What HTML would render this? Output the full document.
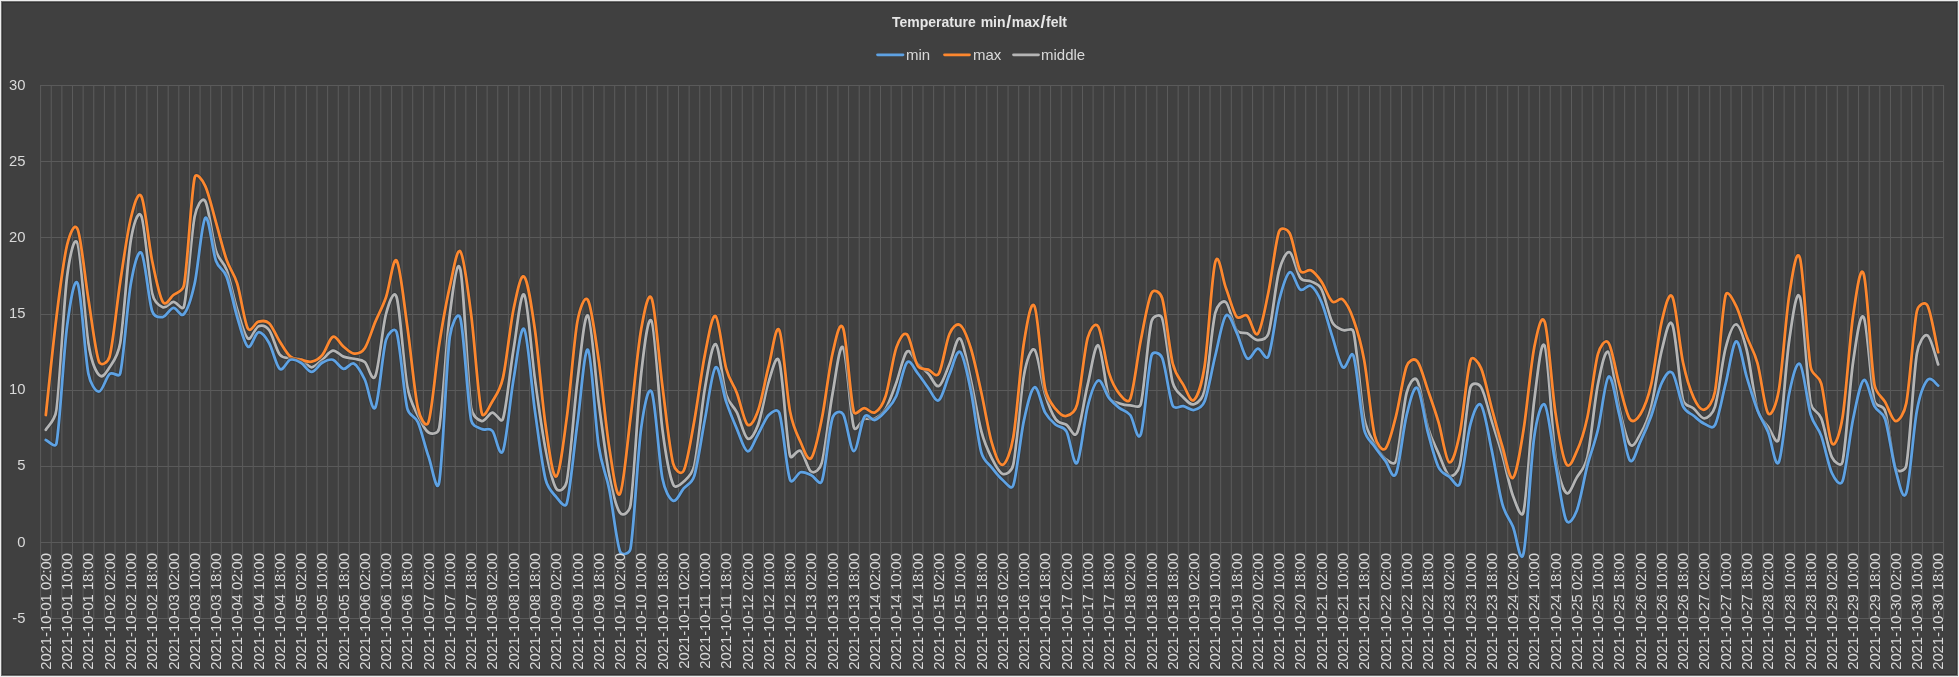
<!DOCTYPE html>
<html><head><meta charset="utf-8"><style>
html,body{margin:0;padding:0;}
body{width:1959px;height:677px;background:#eeeeee;position:relative;overflow:hidden;font-family:"Liberation Sans",sans-serif;}
#f1{position:absolute;left:1px;top:1px;width:1957px;height:675px;box-sizing:border-box;border:1px solid #6c6c6c;}
#f2{position:absolute;left:0;top:0;right:0;bottom:0;border:1px solid #333333;background:#404040;}
svg{position:absolute;left:0;top:0;}
.t{position:absolute;left:0;width:1959px;text-align:center;top:13.5px;font-size:14px;font-weight:bold;color:#e6e6e6;line-height:16px;white-space:nowrap;filter:grayscale(1);}
.sl{margin:0 0.6px;font-size:18px;line-height:10px;position:relative;top:1px;} .sl0{margin-left:1px;}
.lg{position:absolute;top:46px;font-size:15px;color:#d9d9d9;line-height:18px;white-space:nowrap;filter:grayscale(1);}
.yl{position:absolute;right:1933.5px;font-size:14.8px;color:#d9d9d9;line-height:18px;text-align:right;white-space:nowrap;filter:grayscale(1);}
.xl{position:absolute;top:553px;width:0;height:0;font-size:14.8px;color:#d9d9d9;white-space:nowrap;}
.xl span{position:absolute;right:0;top:-9px;line-height:18px;transform-origin:100% 50%;transform:rotate(-90deg);filter:grayscale(1);}
</style></head><body>
<div id="f1"><div id="f2"></div></div>
<svg width="1959" height="677" viewBox="0 0 1959 677">
<path d="M40.60,85V619M51.23,85V619M61.86,85V619M72.49,85V619M83.13,85V619M93.76,85V619M104.39,85V619M115.02,85V619M125.65,85V619M136.28,85V619M146.91,85V619M157.54,85V619M168.18,85V619M178.81,85V619M189.44,85V619M200.07,85V619M210.70,85V619M221.33,85V619M231.96,85V619M242.59,85V619M253.23,85V619M263.86,85V619M274.49,85V619M285.12,85V619M295.75,85V619M306.38,85V619M317.01,85V619M327.64,85V619M338.28,85V619M348.91,85V619M359.54,85V619M370.17,85V619M380.80,85V619M391.43,85V619M402.06,85V619M412.69,85V619M423.33,85V619M433.96,85V619M444.59,85V619M455.22,85V619M465.85,85V619M476.48,85V619M487.11,85V619M497.75,85V619M508.38,85V619M519.01,85V619M529.64,85V619M540.27,85V619M550.90,85V619M561.53,85V619M572.16,85V619M582.80,85V619M593.43,85V619M604.06,85V619M614.69,85V619M625.32,85V619M635.95,85V619M646.58,85V619M657.21,85V619M667.85,85V619M678.48,85V619M689.11,85V619M699.74,85V619M710.37,85V619M721.00,85V619M731.63,85V619M742.26,85V619M752.90,85V619M763.53,85V619M774.16,85V619M784.79,85V619M795.42,85V619M806.05,85V619M816.68,85V619M827.32,85V619M837.95,85V619M848.58,85V619M859.21,85V619M869.84,85V619M880.47,85V619M891.10,85V619M901.73,85V619M912.37,85V619M923.00,85V619M933.63,85V619M944.26,85V619M954.89,85V619M965.52,85V619M976.15,85V619M986.78,85V619M997.42,85V619M1008.05,85V619M1018.68,85V619M1029.31,85V619M1039.94,85V619M1050.57,85V619M1061.20,85V619M1071.83,85V619M1082.47,85V619M1093.10,85V619M1103.73,85V619M1114.36,85V619M1124.99,85V619M1135.62,85V619M1146.25,85V619M1156.88,85V619M1167.52,85V619M1178.15,85V619M1188.78,85V619M1199.41,85V619M1210.04,85V619M1220.67,85V619M1231.30,85V619M1241.94,85V619M1252.57,85V619M1263.20,85V619M1273.83,85V619M1284.46,85V619M1295.09,85V619M1305.72,85V619M1316.35,85V619M1326.99,85V619M1337.62,85V619M1348.25,85V619M1358.88,85V619M1369.51,85V619M1380.14,85V619M1390.77,85V619M1401.40,85V619M1412.04,85V619M1422.67,85V619M1433.30,85V619M1443.93,85V619M1454.56,85V619M1465.19,85V619M1475.82,85V619M1486.45,85V619M1497.09,85V619M1507.72,85V619M1518.35,85V619M1528.98,85V619M1539.61,85V619M1550.24,85V619M1560.87,85V619M1571.51,85V619M1582.14,85V619M1592.77,85V619M1603.40,85V619M1614.03,85V619M1624.66,85V619M1635.29,85V619M1645.92,85V619M1656.56,85V619M1667.19,85V619M1677.82,85V619M1688.45,85V619M1699.08,85V619M1709.71,85V619M1720.34,85V619M1730.97,85V619M1741.61,85V619M1752.24,85V619M1762.87,85V619M1773.50,85V619M1784.13,85V619M1794.76,85V619M1805.39,85V619M1816.02,85V619M1826.66,85V619M1837.29,85V619M1847.92,85V619M1858.55,85V619M1869.18,85V619M1879.81,85V619M1890.44,85V619M1901.07,85V619M1911.71,85V619M1922.34,85V619M1932.97,85V619M1943.60,85V619" stroke="#5c5c5c" stroke-width="1" fill="none"/>
<path d="M40,618.5H1944M40,542.5H1944M40,466.5H1944M40,390.5H1944M40,314.5H1944M40,237.5H1944M40,161.5H1944M40,85.5H1944" stroke="#5a5a5a" stroke-width="1" fill="none" shape-rendering="crispEdges"/>
<path d="M45.82,429.77C47.59,426.47 54.90,421.10 56.45,409.97C59.99,384.45 63.53,304.35 67.08,276.68C69.27,259.60 74.17,232.88 77.71,243.93C81.25,254.97 84.80,321.11 88.34,342.94C91.04,359.58 95.43,370.87 98.97,374.93C102.52,379.00 106.06,372.65 109.60,367.32C113.15,361.99 118.05,356.06 120.23,342.94C123.78,321.72 127.32,261.04 130.87,239.97C133.00,227.27 137.95,207.62 141.50,216.51C145.04,225.39 148.58,278.15 152.13,293.28C154.13,301.85 159.22,305.88 162.76,307.30C166.30,308.72 169.85,301.97 173.39,301.81C176.93,301.66 182.62,312.00 184.02,306.38C187.57,292.17 191.11,234.03 194.65,216.51C196.50,207.40 201.74,195.59 205.28,201.27C208.83,206.96 212.37,239.20 215.92,250.63C219.17,261.11 223.00,260.02 226.55,269.82C230.09,279.62 233.64,298.01 237.18,309.43C240.72,320.86 244.27,335.58 247.81,338.37C251.35,341.17 254.90,327.58 258.44,326.19C261.99,324.79 265.68,325.48 269.07,330.00C272.62,334.72 276.16,349.82 279.70,354.52C283.09,359.01 286.79,357.31 290.34,358.18C293.88,359.04 297.42,358.18 300.97,359.70C304.51,361.22 308.05,367.32 311.60,367.32C315.14,367.32 318.69,362.49 322.23,359.70C325.77,356.91 329.32,351.07 332.86,350.56C336.40,350.05 339.95,355.28 343.49,356.65C347.04,358.02 350.58,357.90 354.12,358.79C357.67,359.68 361.21,359.14 364.75,361.99C368.30,364.83 371.85,383.83 375.39,375.85C378.93,367.85 382.47,327.10 386.02,314.00C388.61,304.42 393.86,287.72 396.65,297.24C400.19,309.33 403.74,366.78 407.28,386.51C410.02,401.76 414.37,407.94 417.91,415.61C421.45,423.27 425.00,430.41 428.54,432.52C432.09,434.62 438.16,433.89 439.17,428.25C442.72,408.57 446.26,340.86 449.80,314.46C452.86,291.72 456.89,254.29 460.44,269.82C463.98,285.36 467.52,382.47 471.07,407.69C472.26,416.16 478.15,420.28 481.70,421.09C485.24,421.90 488.79,412.94 492.33,412.56C495.87,412.18 501.00,424.65 502.96,418.81C506.50,408.22 510.05,369.70 513.59,349.04C517.14,328.37 520.68,289.83 524.22,294.81C527.77,299.78 531.31,353.23 534.85,378.89C538.40,404.56 541.94,430.56 545.49,448.82C549.03,467.07 552.57,482.96 556.12,488.42C559.56,493.73 565.52,487.77 566.75,481.57C570.29,463.72 573.84,409.01 577.38,381.33C580.92,353.66 584.47,312.10 588.01,315.52C591.55,318.95 595.10,375.26 598.64,401.90C602.19,428.53 605.73,456.86 609.27,475.32C612.82,493.78 616.36,507.69 619.91,512.64C623.45,517.59 629.55,511.49 630.54,505.03C634.08,481.87 637.62,404.28 641.17,373.72C644.23,347.31 648.26,312.30 651.80,321.62C655.34,330.93 658.89,402.51 662.43,429.62C665.97,456.74 669.52,475.65 673.06,484.31C675.14,489.39 680.15,484.69 683.69,481.57C687.24,478.44 692.20,474.94 694.32,465.57C697.87,449.98 701.41,408.27 704.96,388.03C708.50,367.80 712.04,343.02 715.59,344.16C719.13,345.30 722.67,383.52 726.22,394.89C729.27,404.67 733.31,405.15 736.85,412.41C740.39,419.67 743.94,436.40 747.48,438.46C751.02,440.51 755.09,432.88 758.11,424.75C761.66,415.23 765.20,391.79 768.74,381.33C772.28,370.88 776.34,351.37 779.37,361.99C782.92,374.38 786.46,440.84 790.01,455.67C791.36,461.33 797.09,448.26 800.64,450.95C804.18,453.64 807.72,469.86 811.27,471.82C814.81,473.77 820.06,469.44 821.90,462.68C825.44,449.65 828.99,412.86 832.53,393.67C836.07,374.48 839.62,341.93 843.16,347.51C846.71,353.10 850.25,415.28 853.79,427.18C855.71,433.63 860.88,420.41 864.42,418.96C867.97,417.51 871.51,420.15 875.06,418.50C878.60,416.85 882.14,415.02 885.69,409.06C889.23,403.09 892.77,392.27 896.32,382.70C899.86,373.13 903.41,354.75 906.95,351.63C910.49,348.50 914.04,360.31 917.58,363.97C921.12,367.62 924.67,369.88 928.21,373.56C931.76,377.24 935.30,387.60 938.84,386.05C942.39,384.51 945.93,372.19 949.47,364.27C953.02,356.35 956.56,335.99 960.11,338.53C963.65,341.06 967.19,364.04 970.74,379.50C974.28,394.97 977.82,418.09 981.37,431.30C984.91,444.50 988.46,451.61 992.00,458.72C995.54,465.83 999.09,472.93 1002.63,473.95C1006.18,474.97 1011.78,471.66 1013.26,464.81C1016.81,448.38 1020.35,394.56 1023.89,375.39C1026.41,361.77 1030.98,346.65 1034.53,349.80C1038.07,352.95 1041.61,382.68 1045.16,394.28C1048.70,405.88 1052.24,414.34 1055.79,419.41C1059.19,424.29 1062.88,422.49 1066.42,424.75C1069.96,427.01 1073.90,438.91 1077.05,432.97C1080.59,426.30 1084.14,399.28 1087.68,384.68C1091.23,370.08 1094.77,343.35 1098.31,345.38C1101.86,347.41 1105.40,387.20 1108.94,396.87C1111.09,402.73 1116.03,402.00 1119.58,403.42C1123.12,404.84 1126.66,405.32 1130.21,405.40C1133.75,405.48 1139.52,409.08 1140.84,403.88C1144.38,389.89 1147.93,335.76 1151.47,321.46C1152.81,316.06 1160.27,312.85 1162.10,318.11C1165.64,328.32 1169.19,369.48 1172.73,382.70C1175.09,391.49 1179.82,393.90 1183.36,397.48C1186.91,401.06 1190.45,405.37 1193.99,404.18C1197.54,402.99 1202.64,398.83 1204.63,390.32C1208.17,375.11 1211.71,327.61 1215.26,312.93C1217.02,305.62 1222.34,299.43 1225.89,302.27C1229.43,305.11 1232.98,324.82 1236.52,330.00C1239.67,334.60 1243.61,331.67 1247.15,333.35C1250.69,335.02 1254.24,340.00 1257.78,340.05C1261.33,340.10 1266.59,339.58 1268.41,333.65C1271.96,322.12 1275.50,284.45 1279.04,270.89C1281.75,260.53 1286.13,251.14 1289.68,252.31C1293.22,253.47 1296.76,273.05 1300.31,277.90C1303.61,282.42 1307.39,279.50 1310.94,281.40C1314.48,283.31 1318.51,283.44 1321.57,289.32C1325.11,296.13 1328.66,315.45 1332.20,322.23C1335.25,328.06 1339.29,328.42 1342.83,330.00C1346.38,331.57 1352.20,326.44 1353.46,331.67C1357.01,346.32 1360.55,399.18 1364.09,417.89C1366.71,431.71 1371.18,437.14 1374.73,443.94C1378.27,450.74 1381.81,455.87 1385.36,458.72C1388.90,461.56 1394.32,466.18 1395.99,461.00C1399.53,450.03 1403.08,406.34 1406.62,392.91C1408.71,384.98 1413.71,374.68 1417.25,380.42C1420.80,386.16 1424.34,415.18 1427.88,427.34C1431.43,439.50 1434.97,445.34 1438.51,453.39C1442.06,461.43 1445.60,473.65 1449.15,475.63C1452.69,477.61 1458.04,472.48 1459.78,465.27C1463.32,450.57 1466.86,400.45 1470.41,387.43C1471.80,382.29 1478.17,382.64 1481.04,387.12C1484.58,392.66 1488.13,409.34 1491.67,420.63C1495.21,431.93 1498.76,442.39 1502.30,454.91C1505.85,467.43 1509.39,486.29 1512.93,495.73C1516.28,504.67 1521.48,520.89 1523.56,511.58C1527.11,495.73 1530.65,428.28 1534.20,400.68C1537.74,373.08 1541.28,336.70 1544.83,345.99C1548.37,355.28 1551.91,431.98 1555.46,456.43C1558.17,475.13 1562.55,489.16 1566.09,492.69C1569.63,496.22 1573.18,483.52 1576.72,477.61C1580.26,471.69 1584.80,468.41 1587.35,457.19C1590.90,441.60 1594.44,401.57 1597.98,384.07C1601.32,367.62 1605.07,348.22 1608.61,352.24C1612.16,356.25 1615.70,392.78 1619.25,408.14C1622.79,423.50 1626.33,440.11 1629.88,444.40C1633.42,448.69 1636.96,440.08 1640.51,433.89C1644.05,427.69 1647.60,421.14 1651.14,407.23C1654.68,393.29 1658.23,364.02 1661.77,350.26C1665.23,336.84 1668.86,316.36 1672.40,324.66C1675.95,332.97 1679.49,386.10 1683.03,400.07C1684.70,406.63 1690.12,405.40 1693.66,408.45C1697.21,411.49 1700.75,418.60 1704.30,418.35C1707.84,418.09 1712.66,414.39 1714.93,406.92C1718.47,395.24 1722.01,362.04 1725.56,348.28C1728.82,335.60 1732.65,324.00 1736.19,324.36C1739.73,324.71 1743.41,336.76 1746.82,350.41C1750.36,364.60 1753.91,396.79 1757.45,409.51C1760.17,419.26 1764.54,421.80 1768.08,426.73C1771.63,431.65 1776.79,446.98 1778.72,439.07C1782.26,424.52 1785.80,363.05 1789.35,339.44C1792.56,318.00 1796.43,286.78 1799.98,297.40C1803.52,308.01 1807.07,382.96 1810.61,403.12C1812.22,412.26 1817.83,409.71 1821.24,418.35C1824.78,427.34 1828.33,449.75 1831.87,457.04C1834.44,462.33 1841.22,467.81 1842.50,462.07C1846.05,446.17 1849.59,385.80 1853.13,361.68C1856.45,339.13 1860.22,310.78 1863.77,317.35C1867.31,323.93 1870.85,385.60 1874.40,401.13C1875.98,408.07 1882.88,403.80 1885.03,410.58C1888.57,421.78 1892.12,459.15 1895.66,468.31C1897.64,473.43 1905.29,470.97 1906.29,465.57C1909.83,446.43 1913.38,375.14 1916.92,353.45C1918.61,343.15 1924.01,333.65 1927.55,335.48C1931.10,337.31 1936.41,359.60 1938.18,364.42" stroke="#30363c" stroke-opacity="0.55" stroke-width="4.6" fill="none" stroke-linejoin="round"/>
<path d="M45.82,429.77C47.59,426.47 54.90,421.10 56.45,409.97C59.99,384.45 63.53,304.35 67.08,276.68C69.27,259.60 74.17,232.88 77.71,243.93C81.25,254.97 84.80,321.11 88.34,342.94C91.04,359.58 95.43,370.87 98.97,374.93C102.52,379.00 106.06,372.65 109.60,367.32C113.15,361.99 118.05,356.06 120.23,342.94C123.78,321.72 127.32,261.04 130.87,239.97C133.00,227.27 137.95,207.62 141.50,216.51C145.04,225.39 148.58,278.15 152.13,293.28C154.13,301.85 159.22,305.88 162.76,307.30C166.30,308.72 169.85,301.97 173.39,301.81C176.93,301.66 182.62,312.00 184.02,306.38C187.57,292.17 191.11,234.03 194.65,216.51C196.50,207.40 201.74,195.59 205.28,201.27C208.83,206.96 212.37,239.20 215.92,250.63C219.17,261.11 223.00,260.02 226.55,269.82C230.09,279.62 233.64,298.01 237.18,309.43C240.72,320.86 244.27,335.58 247.81,338.37C251.35,341.17 254.90,327.58 258.44,326.19C261.99,324.79 265.68,325.48 269.07,330.00C272.62,334.72 276.16,349.82 279.70,354.52C283.09,359.01 286.79,357.31 290.34,358.18C293.88,359.04 297.42,358.18 300.97,359.70C304.51,361.22 308.05,367.32 311.60,367.32C315.14,367.32 318.69,362.49 322.23,359.70C325.77,356.91 329.32,351.07 332.86,350.56C336.40,350.05 339.95,355.28 343.49,356.65C347.04,358.02 350.58,357.90 354.12,358.79C357.67,359.68 361.21,359.14 364.75,361.99C368.30,364.83 371.85,383.83 375.39,375.85C378.93,367.85 382.47,327.10 386.02,314.00C388.61,304.42 393.86,287.72 396.65,297.24C400.19,309.33 403.74,366.78 407.28,386.51C410.02,401.76 414.37,407.94 417.91,415.61C421.45,423.27 425.00,430.41 428.54,432.52C432.09,434.62 438.16,433.89 439.17,428.25C442.72,408.57 446.26,340.86 449.80,314.46C452.86,291.72 456.89,254.29 460.44,269.82C463.98,285.36 467.52,382.47 471.07,407.69C472.26,416.16 478.15,420.28 481.70,421.09C485.24,421.90 488.79,412.94 492.33,412.56C495.87,412.18 501.00,424.65 502.96,418.81C506.50,408.22 510.05,369.70 513.59,349.04C517.14,328.37 520.68,289.83 524.22,294.81C527.77,299.78 531.31,353.23 534.85,378.89C538.40,404.56 541.94,430.56 545.49,448.82C549.03,467.07 552.57,482.96 556.12,488.42C559.56,493.73 565.52,487.77 566.75,481.57C570.29,463.72 573.84,409.01 577.38,381.33C580.92,353.66 584.47,312.10 588.01,315.52C591.55,318.95 595.10,375.26 598.64,401.90C602.19,428.53 605.73,456.86 609.27,475.32C612.82,493.78 616.36,507.69 619.91,512.64C623.45,517.59 629.55,511.49 630.54,505.03C634.08,481.87 637.62,404.28 641.17,373.72C644.23,347.31 648.26,312.30 651.80,321.62C655.34,330.93 658.89,402.51 662.43,429.62C665.97,456.74 669.52,475.65 673.06,484.31C675.14,489.39 680.15,484.69 683.69,481.57C687.24,478.44 692.20,474.94 694.32,465.57C697.87,449.98 701.41,408.27 704.96,388.03C708.50,367.80 712.04,343.02 715.59,344.16C719.13,345.30 722.67,383.52 726.22,394.89C729.27,404.67 733.31,405.15 736.85,412.41C740.39,419.67 743.94,436.40 747.48,438.46C751.02,440.51 755.09,432.88 758.11,424.75C761.66,415.23 765.20,391.79 768.74,381.33C772.28,370.88 776.34,351.37 779.37,361.99C782.92,374.38 786.46,440.84 790.01,455.67C791.36,461.33 797.09,448.26 800.64,450.95C804.18,453.64 807.72,469.86 811.27,471.82C814.81,473.77 820.06,469.44 821.90,462.68C825.44,449.65 828.99,412.86 832.53,393.67C836.07,374.48 839.62,341.93 843.16,347.51C846.71,353.10 850.25,415.28 853.79,427.18C855.71,433.63 860.88,420.41 864.42,418.96C867.97,417.51 871.51,420.15 875.06,418.50C878.60,416.85 882.14,415.02 885.69,409.06C889.23,403.09 892.77,392.27 896.32,382.70C899.86,373.13 903.41,354.75 906.95,351.63C910.49,348.50 914.04,360.31 917.58,363.97C921.12,367.62 924.67,369.88 928.21,373.56C931.76,377.24 935.30,387.60 938.84,386.05C942.39,384.51 945.93,372.19 949.47,364.27C953.02,356.35 956.56,335.99 960.11,338.53C963.65,341.06 967.19,364.04 970.74,379.50C974.28,394.97 977.82,418.09 981.37,431.30C984.91,444.50 988.46,451.61 992.00,458.72C995.54,465.83 999.09,472.93 1002.63,473.95C1006.18,474.97 1011.78,471.66 1013.26,464.81C1016.81,448.38 1020.35,394.56 1023.89,375.39C1026.41,361.77 1030.98,346.65 1034.53,349.80C1038.07,352.95 1041.61,382.68 1045.16,394.28C1048.70,405.88 1052.24,414.34 1055.79,419.41C1059.19,424.29 1062.88,422.49 1066.42,424.75C1069.96,427.01 1073.90,438.91 1077.05,432.97C1080.59,426.30 1084.14,399.28 1087.68,384.68C1091.23,370.08 1094.77,343.35 1098.31,345.38C1101.86,347.41 1105.40,387.20 1108.94,396.87C1111.09,402.73 1116.03,402.00 1119.58,403.42C1123.12,404.84 1126.66,405.32 1130.21,405.40C1133.75,405.48 1139.52,409.08 1140.84,403.88C1144.38,389.89 1147.93,335.76 1151.47,321.46C1152.81,316.06 1160.27,312.85 1162.10,318.11C1165.64,328.32 1169.19,369.48 1172.73,382.70C1175.09,391.49 1179.82,393.90 1183.36,397.48C1186.91,401.06 1190.45,405.37 1193.99,404.18C1197.54,402.99 1202.64,398.83 1204.63,390.32C1208.17,375.11 1211.71,327.61 1215.26,312.93C1217.02,305.62 1222.34,299.43 1225.89,302.27C1229.43,305.11 1232.98,324.82 1236.52,330.00C1239.67,334.60 1243.61,331.67 1247.15,333.35C1250.69,335.02 1254.24,340.00 1257.78,340.05C1261.33,340.10 1266.59,339.58 1268.41,333.65C1271.96,322.12 1275.50,284.45 1279.04,270.89C1281.75,260.53 1286.13,251.14 1289.68,252.31C1293.22,253.47 1296.76,273.05 1300.31,277.90C1303.61,282.42 1307.39,279.50 1310.94,281.40C1314.48,283.31 1318.51,283.44 1321.57,289.32C1325.11,296.13 1328.66,315.45 1332.20,322.23C1335.25,328.06 1339.29,328.42 1342.83,330.00C1346.38,331.57 1352.20,326.44 1353.46,331.67C1357.01,346.32 1360.55,399.18 1364.09,417.89C1366.71,431.71 1371.18,437.14 1374.73,443.94C1378.27,450.74 1381.81,455.87 1385.36,458.72C1388.90,461.56 1394.32,466.18 1395.99,461.00C1399.53,450.03 1403.08,406.34 1406.62,392.91C1408.71,384.98 1413.71,374.68 1417.25,380.42C1420.80,386.16 1424.34,415.18 1427.88,427.34C1431.43,439.50 1434.97,445.34 1438.51,453.39C1442.06,461.43 1445.60,473.65 1449.15,475.63C1452.69,477.61 1458.04,472.48 1459.78,465.27C1463.32,450.57 1466.86,400.45 1470.41,387.43C1471.80,382.29 1478.17,382.64 1481.04,387.12C1484.58,392.66 1488.13,409.34 1491.67,420.63C1495.21,431.93 1498.76,442.39 1502.30,454.91C1505.85,467.43 1509.39,486.29 1512.93,495.73C1516.28,504.67 1521.48,520.89 1523.56,511.58C1527.11,495.73 1530.65,428.28 1534.20,400.68C1537.74,373.08 1541.28,336.70 1544.83,345.99C1548.37,355.28 1551.91,431.98 1555.46,456.43C1558.17,475.13 1562.55,489.16 1566.09,492.69C1569.63,496.22 1573.18,483.52 1576.72,477.61C1580.26,471.69 1584.80,468.41 1587.35,457.19C1590.90,441.60 1594.44,401.57 1597.98,384.07C1601.32,367.62 1605.07,348.22 1608.61,352.24C1612.16,356.25 1615.70,392.78 1619.25,408.14C1622.79,423.50 1626.33,440.11 1629.88,444.40C1633.42,448.69 1636.96,440.08 1640.51,433.89C1644.05,427.69 1647.60,421.14 1651.14,407.23C1654.68,393.29 1658.23,364.02 1661.77,350.26C1665.23,336.84 1668.86,316.36 1672.40,324.66C1675.95,332.97 1679.49,386.10 1683.03,400.07C1684.70,406.63 1690.12,405.40 1693.66,408.45C1697.21,411.49 1700.75,418.60 1704.30,418.35C1707.84,418.09 1712.66,414.39 1714.93,406.92C1718.47,395.24 1722.01,362.04 1725.56,348.28C1728.82,335.60 1732.65,324.00 1736.19,324.36C1739.73,324.71 1743.41,336.76 1746.82,350.41C1750.36,364.60 1753.91,396.79 1757.45,409.51C1760.17,419.26 1764.54,421.80 1768.08,426.73C1771.63,431.65 1776.79,446.98 1778.72,439.07C1782.26,424.52 1785.80,363.05 1789.35,339.44C1792.56,318.00 1796.43,286.78 1799.98,297.40C1803.52,308.01 1807.07,382.96 1810.61,403.12C1812.22,412.26 1817.83,409.71 1821.24,418.35C1824.78,427.34 1828.33,449.75 1831.87,457.04C1834.44,462.33 1841.22,467.81 1842.50,462.07C1846.05,446.17 1849.59,385.80 1853.13,361.68C1856.45,339.13 1860.22,310.78 1863.77,317.35C1867.31,323.93 1870.85,385.60 1874.40,401.13C1875.98,408.07 1882.88,403.80 1885.03,410.58C1888.57,421.78 1892.12,459.15 1895.66,468.31C1897.64,473.43 1905.29,470.97 1906.29,465.57C1909.83,446.43 1913.38,375.14 1916.92,353.45C1918.61,343.15 1924.01,333.65 1927.55,335.48C1931.10,337.31 1936.41,359.60 1938.18,364.42" stroke="#b5b5b5" stroke-width="2.75" fill="none" stroke-linejoin="round" stroke-linecap="round"/>
<path d="M45.82,415.00C47.59,398.67 52.90,345.38 56.45,317.05C59.99,288.71 63.53,259.59 67.08,244.99C69.30,235.85 74.25,220.70 77.71,229.46C81.25,238.42 84.80,276.73 88.34,298.77C91.88,320.80 95.43,352.03 98.97,361.68C101.00,367.20 108.09,362.33 109.60,356.65C113.15,343.38 116.69,305.11 120.23,282.01C123.78,258.91 127.32,232.25 130.87,218.03C133.75,206.47 137.95,189.60 141.50,196.70C145.04,203.81 148.58,243.17 152.13,260.68C155.67,278.20 159.22,296.10 162.76,301.81C166.09,307.19 169.85,297.75 173.39,294.96C176.93,292.17 182.73,292.20 184.02,285.06C187.57,265.51 191.11,194.17 194.65,177.66C196.07,171.05 202.37,179.93 205.28,186.04C208.83,193.45 212.37,209.86 215.92,222.14C219.46,234.43 223.00,249.54 226.55,259.77C230.09,270.00 233.64,272.11 237.18,283.53C240.72,294.96 244.27,321.97 247.81,328.32C250.87,333.81 254.90,322.48 258.44,321.62C261.99,320.75 265.53,319.84 269.07,323.14C272.62,326.44 276.16,335.83 279.70,341.42C283.25,347.01 286.79,353.61 290.34,356.65C293.88,359.70 297.42,358.86 300.97,359.70C304.51,360.54 308.05,362.44 311.60,361.68C315.14,360.92 318.69,359.27 322.23,355.13C325.77,350.99 329.32,338.27 332.86,336.85C336.40,335.43 339.95,343.81 343.49,346.60C347.04,349.39 350.58,353.33 354.12,353.61C357.67,353.89 361.46,353.23 364.75,348.28C368.30,342.94 371.84,330.12 375.39,321.62C378.93,313.11 382.47,307.40 386.02,297.24C389.56,287.09 393.10,255.86 396.65,260.68C400.19,265.51 403.74,301.61 407.28,326.19C410.82,350.76 414.37,392.20 417.91,408.14C419.79,416.61 425.79,430.08 428.54,421.85C432.09,411.27 435.63,367.16 439.17,344.62C442.72,322.07 446.26,302.09 449.80,286.58C453.35,271.07 456.89,246.97 460.44,251.54C463.98,256.11 467.52,287.11 471.07,314.00C474.61,340.89 478.15,398.29 481.70,412.86C483.54,420.45 488.79,407.28 492.33,401.44C495.87,395.60 500.06,390.45 502.96,377.83C506.50,362.42 510.05,325.83 513.59,308.97C517.09,292.34 520.68,273.30 524.22,276.68C527.77,280.06 531.31,304.56 534.85,329.23C538.40,353.91 541.94,400.20 545.49,424.75C549.03,449.30 552.57,477.68 556.12,476.54C559.66,475.40 563.20,443.71 566.75,417.89C570.29,392.07 573.84,341.22 577.38,321.62C579.50,309.89 584.47,293.92 588.01,300.29C591.55,306.66 595.10,335.28 598.64,359.85C602.19,384.43 605.73,425.38 609.27,447.75C612.82,470.12 616.36,499.06 619.91,494.06C623.45,489.06 626.99,445.21 630.54,417.74C634.08,390.27 637.62,349.06 641.17,329.23C644.01,313.35 648.26,289.27 651.80,298.77C655.34,308.26 658.89,358.79 662.43,386.21C665.97,413.63 669.52,449.20 673.06,463.29C674.65,469.59 680.80,476.56 683.69,470.75C687.24,463.64 690.78,440.03 694.32,420.63C697.87,401.24 701.41,371.79 704.96,354.37C708.50,336.95 712.04,313.75 715.59,316.13C719.13,318.52 722.67,355.89 726.22,368.69C729.75,381.43 733.31,383.59 736.85,392.91C740.39,402.23 743.94,421.65 747.48,424.59C751.02,427.54 755.11,418.85 758.11,410.58C761.66,400.80 765.20,379.33 768.74,365.95C772.29,352.57 775.83,322.73 779.37,330.30C782.92,337.87 786.46,392.68 790.01,411.34C793.06,427.40 797.09,434.50 800.64,442.26C804.18,450.03 807.72,461.94 811.27,457.96C814.81,453.97 818.36,435.77 821.90,418.35C825.44,400.93 828.99,368.46 832.53,353.45C835.67,340.17 839.62,318.62 843.16,328.32C846.71,338.02 850.25,398.34 853.79,411.65C855.23,417.05 860.88,408.02 864.42,408.14C867.97,408.27 871.51,414.44 875.06,412.41C878.60,410.38 882.63,405.26 885.69,395.96C889.23,385.17 892.77,357.92 896.32,347.67C899.09,339.64 903.41,331.44 906.95,334.41C910.49,337.38 914.04,359.62 917.58,365.49C920.53,370.37 924.67,368.26 928.21,369.60C931.76,370.95 935.94,378.43 938.84,373.56C942.39,367.62 945.93,342.03 949.47,333.96C952.25,327.63 956.56,322.79 960.11,325.12C963.65,327.46 967.19,336.70 970.74,347.97C974.28,359.24 977.82,376.84 981.37,392.76C984.91,408.68 988.46,431.47 992.00,443.48C995.37,454.91 999.09,465.83 1002.63,464.81C1006.18,463.79 1010.74,451.88 1013.26,437.39C1016.81,417.08 1020.35,364.80 1023.89,342.94C1026.95,324.08 1030.98,298.61 1034.53,306.23C1038.07,313.85 1041.61,371.48 1045.16,388.64C1047.50,399.98 1052.24,404.66 1055.79,409.21C1059.33,413.75 1062.88,416.67 1066.42,415.91C1069.96,415.15 1075.01,412.11 1077.05,404.64C1080.59,391.64 1084.14,350.92 1087.68,337.92C1089.72,330.44 1094.77,320.80 1098.31,326.64C1101.86,332.48 1105.40,361.71 1108.94,372.95C1112.49,384.20 1116.03,389.79 1119.58,394.13C1123.12,398.47 1128.07,404.44 1130.21,399.00C1133.75,389.99 1137.29,357.69 1140.84,340.05C1144.38,322.40 1147.93,300.14 1151.47,293.13C1154.11,287.91 1160.41,292.41 1162.10,298.01C1165.64,309.74 1169.19,349.04 1172.73,363.51C1175.57,375.08 1179.82,378.77 1183.36,384.84C1186.91,390.90 1190.45,403.06 1193.99,399.92C1197.54,396.77 1201.91,383.54 1204.63,365.95C1208.17,342.99 1211.71,275.21 1215.26,262.21C1218.80,249.21 1222.34,278.89 1225.89,287.95C1229.43,297.02 1232.98,311.97 1236.52,316.59C1239.77,320.82 1243.61,312.81 1247.15,315.68C1250.69,318.55 1254.24,337.71 1257.78,333.80C1261.33,329.89 1264.87,309.25 1268.41,292.22C1271.96,275.18 1275.50,241.41 1279.04,231.59C1280.87,226.53 1287.12,228.53 1289.68,233.26C1293.22,239.84 1296.76,264.87 1300.31,271.04C1302.96,275.66 1307.39,268.48 1310.94,270.28C1314.48,272.08 1318.03,276.65 1321.57,281.86C1325.11,287.06 1328.66,298.56 1332.20,301.51C1335.74,304.45 1339.29,296.53 1342.83,299.53C1346.38,302.52 1349.92,309.46 1353.46,319.48C1357.01,329.51 1360.55,340.35 1364.09,359.70C1367.64,379.05 1371.18,420.74 1374.73,435.56C1376.69,443.77 1381.81,451.91 1385.36,448.66C1388.90,445.41 1392.45,429.80 1395.99,416.06C1399.53,402.33 1403.08,375.39 1406.62,366.25C1408.75,360.77 1413.71,357.24 1417.25,361.22C1420.80,365.21 1424.34,380.01 1427.88,390.17C1431.43,400.32 1434.97,410.15 1438.51,422.16C1442.06,434.17 1445.60,460.32 1449.15,462.22C1452.69,464.12 1456.65,448.53 1459.78,433.58C1463.32,416.62 1466.86,371.38 1470.41,360.46C1472.43,354.24 1478.37,362.11 1481.04,368.08C1484.58,376.00 1488.13,394.97 1491.67,407.99C1495.21,421.01 1498.76,434.57 1502.30,446.23C1505.85,457.88 1509.39,480.65 1512.93,477.91C1516.48,475.17 1520.02,451.48 1523.56,429.77C1527.11,408.07 1530.65,365.59 1534.20,347.67C1536.87,334.14 1541.28,311.36 1544.83,322.23C1548.37,333.09 1551.91,389.28 1555.46,412.86C1559.00,436.45 1562.55,457.32 1566.09,463.74C1569.63,470.17 1573.32,458.81 1576.72,451.40C1580.26,443.69 1583.81,433.68 1587.35,417.43C1590.90,401.19 1594.44,366.33 1597.98,353.91C1600.08,346.57 1605.07,337.89 1608.61,342.94C1612.16,348.00 1615.70,371.53 1619.25,384.23C1622.79,396.92 1626.33,414.16 1629.88,419.11C1633.32,423.92 1637.40,418.96 1640.51,413.93C1644.05,408.19 1647.66,399.85 1651.14,384.68C1654.68,369.25 1658.23,335.94 1661.77,321.31C1664.90,308.39 1668.86,290.06 1672.40,296.94C1675.95,303.82 1679.49,345.81 1683.03,362.59C1686.58,379.38 1690.12,389.79 1693.66,397.63C1696.97,404.95 1700.75,410.66 1704.30,409.67C1707.84,408.68 1713.02,401.96 1714.93,391.69C1718.47,372.65 1722.01,309.68 1725.56,295.42C1727.37,288.11 1732.75,299.38 1736.19,306.08C1739.73,312.98 1743.28,327.36 1746.82,336.85C1750.36,346.35 1753.91,350.31 1757.45,363.05C1761.00,375.80 1764.54,408.70 1768.08,413.32C1771.63,417.94 1776.52,403.05 1778.72,390.78C1782.26,370.95 1785.80,316.46 1789.35,294.35C1792.34,275.70 1796.43,246.01 1799.98,258.09C1803.52,270.18 1807.07,345.94 1810.61,366.86C1812.27,376.64 1818.58,374.06 1821.24,383.62C1824.78,396.36 1828.33,437.67 1831.87,443.33C1835.42,448.99 1840.22,431.32 1842.50,417.59C1846.05,396.29 1849.59,339.41 1853.13,315.52C1856.26,294.44 1860.22,262.77 1863.77,274.24C1867.31,285.72 1870.85,363.10 1874.40,384.38C1876.08,394.49 1881.48,395.78 1885.03,401.90C1888.57,408.02 1892.12,420.89 1895.66,421.09C1899.20,421.29 1904.31,413.37 1906.29,403.12C1909.83,384.76 1913.38,327.20 1916.92,310.95C1918.19,305.14 1924.83,300.34 1927.55,305.62C1931.10,312.50 1936.41,344.47 1938.18,352.24" stroke="#30363c" stroke-opacity="0.55" stroke-width="4.6" fill="none" stroke-linejoin="round"/>
<path d="M45.82,415.00C47.59,398.67 52.90,345.38 56.45,317.05C59.99,288.71 63.53,259.59 67.08,244.99C69.30,235.85 74.25,220.70 77.71,229.46C81.25,238.42 84.80,276.73 88.34,298.77C91.88,320.80 95.43,352.03 98.97,361.68C101.00,367.20 108.09,362.33 109.60,356.65C113.15,343.38 116.69,305.11 120.23,282.01C123.78,258.91 127.32,232.25 130.87,218.03C133.75,206.47 137.95,189.60 141.50,196.70C145.04,203.81 148.58,243.17 152.13,260.68C155.67,278.20 159.22,296.10 162.76,301.81C166.09,307.19 169.85,297.75 173.39,294.96C176.93,292.17 182.73,292.20 184.02,285.06C187.57,265.51 191.11,194.17 194.65,177.66C196.07,171.05 202.37,179.93 205.28,186.04C208.83,193.45 212.37,209.86 215.92,222.14C219.46,234.43 223.00,249.54 226.55,259.77C230.09,270.00 233.64,272.11 237.18,283.53C240.72,294.96 244.27,321.97 247.81,328.32C250.87,333.81 254.90,322.48 258.44,321.62C261.99,320.75 265.53,319.84 269.07,323.14C272.62,326.44 276.16,335.83 279.70,341.42C283.25,347.01 286.79,353.61 290.34,356.65C293.88,359.70 297.42,358.86 300.97,359.70C304.51,360.54 308.05,362.44 311.60,361.68C315.14,360.92 318.69,359.27 322.23,355.13C325.77,350.99 329.32,338.27 332.86,336.85C336.40,335.43 339.95,343.81 343.49,346.60C347.04,349.39 350.58,353.33 354.12,353.61C357.67,353.89 361.46,353.23 364.75,348.28C368.30,342.94 371.84,330.12 375.39,321.62C378.93,313.11 382.47,307.40 386.02,297.24C389.56,287.09 393.10,255.86 396.65,260.68C400.19,265.51 403.74,301.61 407.28,326.19C410.82,350.76 414.37,392.20 417.91,408.14C419.79,416.61 425.79,430.08 428.54,421.85C432.09,411.27 435.63,367.16 439.17,344.62C442.72,322.07 446.26,302.09 449.80,286.58C453.35,271.07 456.89,246.97 460.44,251.54C463.98,256.11 467.52,287.11 471.07,314.00C474.61,340.89 478.15,398.29 481.70,412.86C483.54,420.45 488.79,407.28 492.33,401.44C495.87,395.60 500.06,390.45 502.96,377.83C506.50,362.42 510.05,325.83 513.59,308.97C517.09,292.34 520.68,273.30 524.22,276.68C527.77,280.06 531.31,304.56 534.85,329.23C538.40,353.91 541.94,400.20 545.49,424.75C549.03,449.30 552.57,477.68 556.12,476.54C559.66,475.40 563.20,443.71 566.75,417.89C570.29,392.07 573.84,341.22 577.38,321.62C579.50,309.89 584.47,293.92 588.01,300.29C591.55,306.66 595.10,335.28 598.64,359.85C602.19,384.43 605.73,425.38 609.27,447.75C612.82,470.12 616.36,499.06 619.91,494.06C623.45,489.06 626.99,445.21 630.54,417.74C634.08,390.27 637.62,349.06 641.17,329.23C644.01,313.35 648.26,289.27 651.80,298.77C655.34,308.26 658.89,358.79 662.43,386.21C665.97,413.63 669.52,449.20 673.06,463.29C674.65,469.59 680.80,476.56 683.69,470.75C687.24,463.64 690.78,440.03 694.32,420.63C697.87,401.24 701.41,371.79 704.96,354.37C708.50,336.95 712.04,313.75 715.59,316.13C719.13,318.52 722.67,355.89 726.22,368.69C729.75,381.43 733.31,383.59 736.85,392.91C740.39,402.23 743.94,421.65 747.48,424.59C751.02,427.54 755.11,418.85 758.11,410.58C761.66,400.80 765.20,379.33 768.74,365.95C772.29,352.57 775.83,322.73 779.37,330.30C782.92,337.87 786.46,392.68 790.01,411.34C793.06,427.40 797.09,434.50 800.64,442.26C804.18,450.03 807.72,461.94 811.27,457.96C814.81,453.97 818.36,435.77 821.90,418.35C825.44,400.93 828.99,368.46 832.53,353.45C835.67,340.17 839.62,318.62 843.16,328.32C846.71,338.02 850.25,398.34 853.79,411.65C855.23,417.05 860.88,408.02 864.42,408.14C867.97,408.27 871.51,414.44 875.06,412.41C878.60,410.38 882.63,405.26 885.69,395.96C889.23,385.17 892.77,357.92 896.32,347.67C899.09,339.64 903.41,331.44 906.95,334.41C910.49,337.38 914.04,359.62 917.58,365.49C920.53,370.37 924.67,368.26 928.21,369.60C931.76,370.95 935.94,378.43 938.84,373.56C942.39,367.62 945.93,342.03 949.47,333.96C952.25,327.63 956.56,322.79 960.11,325.12C963.65,327.46 967.19,336.70 970.74,347.97C974.28,359.24 977.82,376.84 981.37,392.76C984.91,408.68 988.46,431.47 992.00,443.48C995.37,454.91 999.09,465.83 1002.63,464.81C1006.18,463.79 1010.74,451.88 1013.26,437.39C1016.81,417.08 1020.35,364.80 1023.89,342.94C1026.95,324.08 1030.98,298.61 1034.53,306.23C1038.07,313.85 1041.61,371.48 1045.16,388.64C1047.50,399.98 1052.24,404.66 1055.79,409.21C1059.33,413.75 1062.88,416.67 1066.42,415.91C1069.96,415.15 1075.01,412.11 1077.05,404.64C1080.59,391.64 1084.14,350.92 1087.68,337.92C1089.72,330.44 1094.77,320.80 1098.31,326.64C1101.86,332.48 1105.40,361.71 1108.94,372.95C1112.49,384.20 1116.03,389.79 1119.58,394.13C1123.12,398.47 1128.07,404.44 1130.21,399.00C1133.75,389.99 1137.29,357.69 1140.84,340.05C1144.38,322.40 1147.93,300.14 1151.47,293.13C1154.11,287.91 1160.41,292.41 1162.10,298.01C1165.64,309.74 1169.19,349.04 1172.73,363.51C1175.57,375.08 1179.82,378.77 1183.36,384.84C1186.91,390.90 1190.45,403.06 1193.99,399.92C1197.54,396.77 1201.91,383.54 1204.63,365.95C1208.17,342.99 1211.71,275.21 1215.26,262.21C1218.80,249.21 1222.34,278.89 1225.89,287.95C1229.43,297.02 1232.98,311.97 1236.52,316.59C1239.77,320.82 1243.61,312.81 1247.15,315.68C1250.69,318.55 1254.24,337.71 1257.78,333.80C1261.33,329.89 1264.87,309.25 1268.41,292.22C1271.96,275.18 1275.50,241.41 1279.04,231.59C1280.87,226.53 1287.12,228.53 1289.68,233.26C1293.22,239.84 1296.76,264.87 1300.31,271.04C1302.96,275.66 1307.39,268.48 1310.94,270.28C1314.48,272.08 1318.03,276.65 1321.57,281.86C1325.11,287.06 1328.66,298.56 1332.20,301.51C1335.74,304.45 1339.29,296.53 1342.83,299.53C1346.38,302.52 1349.92,309.46 1353.46,319.48C1357.01,329.51 1360.55,340.35 1364.09,359.70C1367.64,379.05 1371.18,420.74 1374.73,435.56C1376.69,443.77 1381.81,451.91 1385.36,448.66C1388.90,445.41 1392.45,429.80 1395.99,416.06C1399.53,402.33 1403.08,375.39 1406.62,366.25C1408.75,360.77 1413.71,357.24 1417.25,361.22C1420.80,365.21 1424.34,380.01 1427.88,390.17C1431.43,400.32 1434.97,410.15 1438.51,422.16C1442.06,434.17 1445.60,460.32 1449.15,462.22C1452.69,464.12 1456.65,448.53 1459.78,433.58C1463.32,416.62 1466.86,371.38 1470.41,360.46C1472.43,354.24 1478.37,362.11 1481.04,368.08C1484.58,376.00 1488.13,394.97 1491.67,407.99C1495.21,421.01 1498.76,434.57 1502.30,446.23C1505.85,457.88 1509.39,480.65 1512.93,477.91C1516.48,475.17 1520.02,451.48 1523.56,429.77C1527.11,408.07 1530.65,365.59 1534.20,347.67C1536.87,334.14 1541.28,311.36 1544.83,322.23C1548.37,333.09 1551.91,389.28 1555.46,412.86C1559.00,436.45 1562.55,457.32 1566.09,463.74C1569.63,470.17 1573.32,458.81 1576.72,451.40C1580.26,443.69 1583.81,433.68 1587.35,417.43C1590.90,401.19 1594.44,366.33 1597.98,353.91C1600.08,346.57 1605.07,337.89 1608.61,342.94C1612.16,348.00 1615.70,371.53 1619.25,384.23C1622.79,396.92 1626.33,414.16 1629.88,419.11C1633.32,423.92 1637.40,418.96 1640.51,413.93C1644.05,408.19 1647.66,399.85 1651.14,384.68C1654.68,369.25 1658.23,335.94 1661.77,321.31C1664.90,308.39 1668.86,290.06 1672.40,296.94C1675.95,303.82 1679.49,345.81 1683.03,362.59C1686.58,379.38 1690.12,389.79 1693.66,397.63C1696.97,404.95 1700.75,410.66 1704.30,409.67C1707.84,408.68 1713.02,401.96 1714.93,391.69C1718.47,372.65 1722.01,309.68 1725.56,295.42C1727.37,288.11 1732.75,299.38 1736.19,306.08C1739.73,312.98 1743.28,327.36 1746.82,336.85C1750.36,346.35 1753.91,350.31 1757.45,363.05C1761.00,375.80 1764.54,408.70 1768.08,413.32C1771.63,417.94 1776.52,403.05 1778.72,390.78C1782.26,370.95 1785.80,316.46 1789.35,294.35C1792.34,275.70 1796.43,246.01 1799.98,258.09C1803.52,270.18 1807.07,345.94 1810.61,366.86C1812.27,376.64 1818.58,374.06 1821.24,383.62C1824.78,396.36 1828.33,437.67 1831.87,443.33C1835.42,448.99 1840.22,431.32 1842.50,417.59C1846.05,396.29 1849.59,339.41 1853.13,315.52C1856.26,294.44 1860.22,262.77 1863.77,274.24C1867.31,285.72 1870.85,363.10 1874.40,384.38C1876.08,394.49 1881.48,395.78 1885.03,401.90C1888.57,408.02 1892.12,420.89 1895.66,421.09C1899.20,421.29 1904.31,413.37 1906.29,403.12C1909.83,384.76 1913.38,327.20 1916.92,310.95C1918.19,305.14 1924.83,300.34 1927.55,305.62C1931.10,312.50 1936.41,344.47 1938.18,352.24" stroke="#fd872e" stroke-width="2.75" fill="none" stroke-linejoin="round" stroke-linecap="round"/>
<path d="M45.82,439.98C47.59,440.56 55.42,448.99 56.45,443.48C59.99,424.52 63.53,352.85 67.08,326.19C69.97,304.40 74.17,275.66 77.71,283.53C81.25,291.40 84.80,355.38 88.34,373.41C90.38,383.79 95.43,391.59 98.97,391.69C102.52,391.79 106.06,377.07 109.60,374.02C113.15,370.97 119.02,378.59 120.23,373.41C123.78,358.33 127.32,303.59 130.87,283.53C133.67,267.65 137.95,248.50 141.50,253.07C145.04,257.64 148.58,300.29 152.13,310.95C154.06,316.77 159.22,317.55 162.76,317.05C166.30,316.54 169.85,308.41 173.39,307.91C176.93,307.40 180.48,318.06 184.02,314.00C187.57,309.94 191.16,299.29 194.65,283.53C198.20,267.54 201.74,221.84 205.28,218.03C208.83,214.22 212.37,250.91 215.92,260.68C219.19,269.71 223.16,267.69 226.55,276.68C230.09,286.07 233.64,305.39 237.18,317.05C240.72,328.70 244.27,344.06 247.81,346.60C251.35,349.14 254.90,332.89 258.44,332.28C261.99,331.67 265.53,336.85 269.07,342.94C272.62,349.04 276.16,366.05 279.70,368.84C283.25,371.63 286.79,360.72 290.34,359.70C293.88,358.68 297.42,360.72 300.97,362.75C304.51,364.78 308.05,371.89 311.60,371.89C315.14,371.89 318.69,364.78 322.23,362.75C325.77,360.72 329.32,358.68 332.86,359.70C336.40,360.72 339.95,368.18 343.49,368.84C347.04,369.50 350.58,361.88 354.12,363.66C357.67,365.44 361.21,372.24 364.75,379.50C368.30,386.76 371.84,413.83 375.39,407.23C378.93,400.63 382.47,352.39 386.02,339.90C387.80,333.61 394.71,326.03 396.65,332.28C400.19,343.71 403.74,393.44 407.28,408.45C409.29,416.95 414.38,414.32 417.91,422.31C421.45,430.33 425.00,446.58 428.54,456.58C432.09,466.59 436.74,496.04 439.17,482.33C442.72,462.37 446.26,364.14 449.80,336.85C451.17,326.37 457.81,308.33 460.44,318.57C463.98,332.41 467.52,401.47 471.07,419.87C472.39,426.76 478.15,427.18 481.70,429.01C485.24,430.84 488.79,427.18 492.33,430.84C495.87,434.50 499.42,459.58 502.96,450.95C506.50,442.32 510.05,399.33 513.59,379.05C517.14,358.76 520.68,324.00 524.22,329.23C527.77,334.46 531.31,385.44 534.85,410.43C538.40,435.41 541.94,464.73 545.49,479.13C547.95,489.14 552.57,492.76 556.12,496.80C559.66,500.84 565.01,509.35 566.75,503.35C570.29,491.14 573.84,449.12 577.38,423.53C580.92,397.94 584.47,346.09 588.01,349.80C591.55,353.51 595.10,422.49 598.64,445.77C602.03,468.01 605.73,471.92 609.27,489.49C612.82,507.06 616.36,541.36 619.91,551.18C621.77,556.35 629.60,553.85 630.54,548.44C634.08,527.93 637.62,454.15 641.17,428.10C643.69,409.52 648.26,383.74 651.80,392.15C655.34,400.55 658.89,460.42 662.43,478.52C664.80,490.62 669.52,499.11 673.06,500.76C676.61,502.41 680.15,492.59 683.69,488.42C687.24,484.26 691.91,483.68 694.32,475.78C697.87,464.20 701.41,437.03 704.96,418.96C708.50,400.88 712.04,370.16 715.59,367.32C719.13,364.47 722.67,391.64 726.22,401.90C729.76,412.15 733.31,420.63 736.85,428.86C740.39,437.09 743.94,450.36 747.48,451.25C751.02,452.14 754.57,440.23 758.11,434.19C761.66,428.15 765.20,418.53 768.74,415.00C772.29,411.47 777.69,407.88 779.37,413.02C782.92,423.81 786.46,469.86 790.01,479.74C792.20,485.85 797.09,473.04 800.64,472.27C804.18,471.51 807.72,473.70 811.27,475.17C814.81,476.64 819.79,486.82 821.90,481.11C825.44,471.54 828.99,428.88 832.53,417.74C834.23,412.41 840.15,409.52 843.16,414.24C846.71,419.80 850.25,450.69 853.79,451.10C857.34,451.51 860.88,421.85 864.42,416.67C867.57,412.07 871.51,420.96 875.06,420.02C878.60,419.08 882.14,415.05 885.69,411.04C889.23,407.03 892.77,404.05 896.32,395.96C899.86,387.86 903.41,366.25 906.95,362.44C910.49,358.63 914.04,368.87 917.58,373.11C921.12,377.35 924.67,383.36 928.21,387.88C931.76,392.40 935.30,402.51 938.84,400.22C942.39,397.94 945.93,382.22 949.47,374.17C953.02,366.12 956.56,349.27 960.11,351.93C963.65,354.60 967.19,373.38 970.74,390.17C974.28,406.95 977.82,439.68 981.37,452.62C983.82,461.58 988.46,463.29 992.00,467.86C995.54,472.43 999.09,477.12 1002.63,480.04C1006.18,482.96 1011.26,490.97 1013.26,485.38C1016.81,475.47 1020.35,436.98 1023.89,420.63C1027.44,404.28 1030.98,388.62 1034.53,387.27C1038.07,385.93 1041.61,406.31 1045.16,412.56C1048.70,418.81 1052.24,421.62 1055.79,424.75C1059.33,427.87 1063.38,425.84 1066.42,431.30C1069.96,437.67 1073.51,467.15 1077.05,462.98C1080.59,458.82 1084.14,420.05 1087.68,406.31C1091.16,392.83 1094.77,381.97 1098.31,380.57C1101.86,379.17 1105.40,393.34 1108.94,397.94C1112.49,402.53 1116.03,405.30 1119.58,408.14C1123.12,410.99 1126.66,410.66 1130.21,415.00C1133.75,419.34 1137.29,444.07 1140.84,434.19C1144.38,424.31 1147.93,368.48 1151.47,355.74C1152.92,350.53 1159.98,352.74 1162.10,357.72C1165.64,366.05 1169.19,397.63 1172.73,405.70C1174.87,410.58 1179.82,405.45 1183.36,406.16C1186.91,406.87 1190.45,410.78 1193.99,409.97C1197.54,409.16 1202.12,407.68 1204.63,401.29C1208.17,392.25 1211.71,370.01 1215.26,355.74C1218.80,341.47 1222.34,319.59 1225.89,315.68C1229.43,311.77 1232.98,325.17 1236.52,332.28C1240.06,339.39 1243.61,355.59 1247.15,358.33C1250.69,361.07 1254.24,349.09 1257.78,348.73C1261.33,348.38 1265.78,362.13 1268.41,356.20C1271.96,348.20 1275.50,314.74 1279.04,300.75C1282.59,286.76 1286.13,274.11 1289.68,272.26C1293.22,270.41 1296.76,287.37 1300.31,289.63C1303.85,291.89 1307.39,283.71 1310.94,285.82C1314.48,287.93 1318.03,293.89 1321.57,302.27C1325.11,310.65 1328.66,325.25 1332.20,336.09C1335.74,346.93 1339.29,364.04 1342.83,367.32C1346.38,370.59 1350.92,348.30 1353.46,355.74C1357.01,366.10 1360.55,414.31 1364.09,429.47C1366.40,439.32 1371.18,441.45 1374.73,446.68C1378.27,451.91 1381.81,456.36 1385.36,460.85C1388.90,465.34 1392.48,481.19 1395.99,473.65C1399.53,466.03 1403.08,429.42 1406.62,415.15C1410.13,401.02 1413.71,385.17 1417.25,388.03C1420.80,390.90 1424.34,419.16 1427.88,432.36C1431.43,445.57 1434.97,459.86 1438.51,467.25C1441.59,473.66 1445.60,473.95 1449.15,476.69C1452.69,479.43 1457.38,489.60 1459.78,483.70C1463.32,474.97 1466.86,437.39 1470.41,424.29C1473.27,413.70 1477.50,400.83 1481.04,405.10C1484.58,409.36 1488.13,433.43 1491.67,449.88C1495.21,466.33 1498.76,491.01 1502.30,503.81C1505.66,515.95 1509.39,518.41 1512.93,526.66C1516.48,534.91 1520.26,567.28 1523.56,553.32C1527.11,538.36 1530.65,461.69 1534.20,436.93C1536.59,420.18 1541.28,400.30 1544.83,404.79C1548.37,409.28 1551.91,444.68 1555.46,463.90C1559.00,483.12 1562.55,512.29 1566.09,520.11C1569.00,526.54 1574.15,517.39 1576.72,510.81C1580.26,501.75 1583.81,479.28 1587.35,465.72C1590.90,452.17 1594.44,444.32 1597.98,429.47C1601.53,414.62 1605.07,379.10 1608.61,376.61C1612.16,374.12 1615.70,400.58 1619.25,414.54C1622.79,428.50 1626.33,455.92 1629.88,460.39C1633.42,464.86 1636.96,448.71 1640.51,441.35C1644.05,433.99 1647.60,425.97 1651.14,416.22C1654.68,406.47 1658.23,390.07 1661.77,382.86C1664.98,376.34 1668.86,369.04 1672.40,372.95C1675.95,376.86 1679.49,399.18 1683.03,406.31C1686.20,412.68 1690.12,412.86 1693.66,415.76C1697.21,418.65 1700.75,422.11 1704.30,423.68C1707.84,425.25 1712.39,429.94 1714.93,425.20C1718.47,418.58 1722.01,397.89 1725.56,383.92C1729.10,369.96 1732.65,342.51 1736.19,341.42C1739.73,340.33 1743.28,365.90 1746.82,377.37C1750.36,388.85 1753.91,401.16 1757.45,410.27C1761.00,419.39 1764.54,423.38 1768.08,432.06C1771.63,440.74 1775.17,468.95 1778.72,462.37C1782.26,455.80 1785.80,408.98 1789.35,392.60C1792.56,377.75 1796.43,360.51 1799.98,364.12C1803.52,367.72 1807.07,402.28 1810.61,414.24C1814.03,425.79 1817.70,426.07 1821.24,435.87C1824.78,445.67 1828.33,465.47 1831.87,473.04C1834.72,479.12 1840.05,487.52 1842.50,481.26C1846.05,472.22 1849.59,435.66 1853.13,418.81C1856.68,401.95 1860.22,382.22 1863.77,380.11C1867.31,378.01 1870.85,399.69 1874.40,406.16C1877.94,412.64 1882.42,411.06 1885.03,418.96C1888.57,429.67 1892.12,458.13 1895.66,470.45C1899.09,482.36 1902.75,502.84 1906.29,492.84C1909.83,482.84 1913.38,429.24 1916.92,410.43C1919.91,394.57 1924.01,384.10 1927.55,379.96C1931.10,375.82 1936.41,384.66 1938.18,385.60" stroke="#30363c" stroke-opacity="0.55" stroke-width="4.6" fill="none" stroke-linejoin="round"/>
<path d="M45.82,439.98C47.59,440.56 55.42,448.99 56.45,443.48C59.99,424.52 63.53,352.85 67.08,326.19C69.97,304.40 74.17,275.66 77.71,283.53C81.25,291.40 84.80,355.38 88.34,373.41C90.38,383.79 95.43,391.59 98.97,391.69C102.52,391.79 106.06,377.07 109.60,374.02C113.15,370.97 119.02,378.59 120.23,373.41C123.78,358.33 127.32,303.59 130.87,283.53C133.67,267.65 137.95,248.50 141.50,253.07C145.04,257.64 148.58,300.29 152.13,310.95C154.06,316.77 159.22,317.55 162.76,317.05C166.30,316.54 169.85,308.41 173.39,307.91C176.93,307.40 180.48,318.06 184.02,314.00C187.57,309.94 191.16,299.29 194.65,283.53C198.20,267.54 201.74,221.84 205.28,218.03C208.83,214.22 212.37,250.91 215.92,260.68C219.19,269.71 223.16,267.69 226.55,276.68C230.09,286.07 233.64,305.39 237.18,317.05C240.72,328.70 244.27,344.06 247.81,346.60C251.35,349.14 254.90,332.89 258.44,332.28C261.99,331.67 265.53,336.85 269.07,342.94C272.62,349.04 276.16,366.05 279.70,368.84C283.25,371.63 286.79,360.72 290.34,359.70C293.88,358.68 297.42,360.72 300.97,362.75C304.51,364.78 308.05,371.89 311.60,371.89C315.14,371.89 318.69,364.78 322.23,362.75C325.77,360.72 329.32,358.68 332.86,359.70C336.40,360.72 339.95,368.18 343.49,368.84C347.04,369.50 350.58,361.88 354.12,363.66C357.67,365.44 361.21,372.24 364.75,379.50C368.30,386.76 371.84,413.83 375.39,407.23C378.93,400.63 382.47,352.39 386.02,339.90C387.80,333.61 394.71,326.03 396.65,332.28C400.19,343.71 403.74,393.44 407.28,408.45C409.29,416.95 414.38,414.32 417.91,422.31C421.45,430.33 425.00,446.58 428.54,456.58C432.09,466.59 436.74,496.04 439.17,482.33C442.72,462.37 446.26,364.14 449.80,336.85C451.17,326.37 457.81,308.33 460.44,318.57C463.98,332.41 467.52,401.47 471.07,419.87C472.39,426.76 478.15,427.18 481.70,429.01C485.24,430.84 488.79,427.18 492.33,430.84C495.87,434.50 499.42,459.58 502.96,450.95C506.50,442.32 510.05,399.33 513.59,379.05C517.14,358.76 520.68,324.00 524.22,329.23C527.77,334.46 531.31,385.44 534.85,410.43C538.40,435.41 541.94,464.73 545.49,479.13C547.95,489.14 552.57,492.76 556.12,496.80C559.66,500.84 565.01,509.35 566.75,503.35C570.29,491.14 573.84,449.12 577.38,423.53C580.92,397.94 584.47,346.09 588.01,349.80C591.55,353.51 595.10,422.49 598.64,445.77C602.03,468.01 605.73,471.92 609.27,489.49C612.82,507.06 616.36,541.36 619.91,551.18C621.77,556.35 629.60,553.85 630.54,548.44C634.08,527.93 637.62,454.15 641.17,428.10C643.69,409.52 648.26,383.74 651.80,392.15C655.34,400.55 658.89,460.42 662.43,478.52C664.80,490.62 669.52,499.11 673.06,500.76C676.61,502.41 680.15,492.59 683.69,488.42C687.24,484.26 691.91,483.68 694.32,475.78C697.87,464.20 701.41,437.03 704.96,418.96C708.50,400.88 712.04,370.16 715.59,367.32C719.13,364.47 722.67,391.64 726.22,401.90C729.76,412.15 733.31,420.63 736.85,428.86C740.39,437.09 743.94,450.36 747.48,451.25C751.02,452.14 754.57,440.23 758.11,434.19C761.66,428.15 765.20,418.53 768.74,415.00C772.29,411.47 777.69,407.88 779.37,413.02C782.92,423.81 786.46,469.86 790.01,479.74C792.20,485.85 797.09,473.04 800.64,472.27C804.18,471.51 807.72,473.70 811.27,475.17C814.81,476.64 819.79,486.82 821.90,481.11C825.44,471.54 828.99,428.88 832.53,417.74C834.23,412.41 840.15,409.52 843.16,414.24C846.71,419.80 850.25,450.69 853.79,451.10C857.34,451.51 860.88,421.85 864.42,416.67C867.57,412.07 871.51,420.96 875.06,420.02C878.60,419.08 882.14,415.05 885.69,411.04C889.23,407.03 892.77,404.05 896.32,395.96C899.86,387.86 903.41,366.25 906.95,362.44C910.49,358.63 914.04,368.87 917.58,373.11C921.12,377.35 924.67,383.36 928.21,387.88C931.76,392.40 935.30,402.51 938.84,400.22C942.39,397.94 945.93,382.22 949.47,374.17C953.02,366.12 956.56,349.27 960.11,351.93C963.65,354.60 967.19,373.38 970.74,390.17C974.28,406.95 977.82,439.68 981.37,452.62C983.82,461.58 988.46,463.29 992.00,467.86C995.54,472.43 999.09,477.12 1002.63,480.04C1006.18,482.96 1011.26,490.97 1013.26,485.38C1016.81,475.47 1020.35,436.98 1023.89,420.63C1027.44,404.28 1030.98,388.62 1034.53,387.27C1038.07,385.93 1041.61,406.31 1045.16,412.56C1048.70,418.81 1052.24,421.62 1055.79,424.75C1059.33,427.87 1063.38,425.84 1066.42,431.30C1069.96,437.67 1073.51,467.15 1077.05,462.98C1080.59,458.82 1084.14,420.05 1087.68,406.31C1091.16,392.83 1094.77,381.97 1098.31,380.57C1101.86,379.17 1105.40,393.34 1108.94,397.94C1112.49,402.53 1116.03,405.30 1119.58,408.14C1123.12,410.99 1126.66,410.66 1130.21,415.00C1133.75,419.34 1137.29,444.07 1140.84,434.19C1144.38,424.31 1147.93,368.48 1151.47,355.74C1152.92,350.53 1159.98,352.74 1162.10,357.72C1165.64,366.05 1169.19,397.63 1172.73,405.70C1174.87,410.58 1179.82,405.45 1183.36,406.16C1186.91,406.87 1190.45,410.78 1193.99,409.97C1197.54,409.16 1202.12,407.68 1204.63,401.29C1208.17,392.25 1211.71,370.01 1215.26,355.74C1218.80,341.47 1222.34,319.59 1225.89,315.68C1229.43,311.77 1232.98,325.17 1236.52,332.28C1240.06,339.39 1243.61,355.59 1247.15,358.33C1250.69,361.07 1254.24,349.09 1257.78,348.73C1261.33,348.38 1265.78,362.13 1268.41,356.20C1271.96,348.20 1275.50,314.74 1279.04,300.75C1282.59,286.76 1286.13,274.11 1289.68,272.26C1293.22,270.41 1296.76,287.37 1300.31,289.63C1303.85,291.89 1307.39,283.71 1310.94,285.82C1314.48,287.93 1318.03,293.89 1321.57,302.27C1325.11,310.65 1328.66,325.25 1332.20,336.09C1335.74,346.93 1339.29,364.04 1342.83,367.32C1346.38,370.59 1350.92,348.30 1353.46,355.74C1357.01,366.10 1360.55,414.31 1364.09,429.47C1366.40,439.32 1371.18,441.45 1374.73,446.68C1378.27,451.91 1381.81,456.36 1385.36,460.85C1388.90,465.34 1392.48,481.19 1395.99,473.65C1399.53,466.03 1403.08,429.42 1406.62,415.15C1410.13,401.02 1413.71,385.17 1417.25,388.03C1420.80,390.90 1424.34,419.16 1427.88,432.36C1431.43,445.57 1434.97,459.86 1438.51,467.25C1441.59,473.66 1445.60,473.95 1449.15,476.69C1452.69,479.43 1457.38,489.60 1459.78,483.70C1463.32,474.97 1466.86,437.39 1470.41,424.29C1473.27,413.70 1477.50,400.83 1481.04,405.10C1484.58,409.36 1488.13,433.43 1491.67,449.88C1495.21,466.33 1498.76,491.01 1502.30,503.81C1505.66,515.95 1509.39,518.41 1512.93,526.66C1516.48,534.91 1520.26,567.28 1523.56,553.32C1527.11,538.36 1530.65,461.69 1534.20,436.93C1536.59,420.18 1541.28,400.30 1544.83,404.79C1548.37,409.28 1551.91,444.68 1555.46,463.90C1559.00,483.12 1562.55,512.29 1566.09,520.11C1569.00,526.54 1574.15,517.39 1576.72,510.81C1580.26,501.75 1583.81,479.28 1587.35,465.72C1590.90,452.17 1594.44,444.32 1597.98,429.47C1601.53,414.62 1605.07,379.10 1608.61,376.61C1612.16,374.12 1615.70,400.58 1619.25,414.54C1622.79,428.50 1626.33,455.92 1629.88,460.39C1633.42,464.86 1636.96,448.71 1640.51,441.35C1644.05,433.99 1647.60,425.97 1651.14,416.22C1654.68,406.47 1658.23,390.07 1661.77,382.86C1664.98,376.34 1668.86,369.04 1672.40,372.95C1675.95,376.86 1679.49,399.18 1683.03,406.31C1686.20,412.68 1690.12,412.86 1693.66,415.76C1697.21,418.65 1700.75,422.11 1704.30,423.68C1707.84,425.25 1712.39,429.94 1714.93,425.20C1718.47,418.58 1722.01,397.89 1725.56,383.92C1729.10,369.96 1732.65,342.51 1736.19,341.42C1739.73,340.33 1743.28,365.90 1746.82,377.37C1750.36,388.85 1753.91,401.16 1757.45,410.27C1761.00,419.39 1764.54,423.38 1768.08,432.06C1771.63,440.74 1775.17,468.95 1778.72,462.37C1782.26,455.80 1785.80,408.98 1789.35,392.60C1792.56,377.75 1796.43,360.51 1799.98,364.12C1803.52,367.72 1807.07,402.28 1810.61,414.24C1814.03,425.79 1817.70,426.07 1821.24,435.87C1824.78,445.67 1828.33,465.47 1831.87,473.04C1834.72,479.12 1840.05,487.52 1842.50,481.26C1846.05,472.22 1849.59,435.66 1853.13,418.81C1856.68,401.95 1860.22,382.22 1863.77,380.11C1867.31,378.01 1870.85,399.69 1874.40,406.16C1877.94,412.64 1882.42,411.06 1885.03,418.96C1888.57,429.67 1892.12,458.13 1895.66,470.45C1899.09,482.36 1902.75,502.84 1906.29,492.84C1909.83,482.84 1913.38,429.24 1916.92,410.43C1919.91,394.57 1924.01,384.10 1927.55,379.96C1931.10,375.82 1936.41,384.66 1938.18,385.60" stroke="#5ea2e4" stroke-width="2.75" fill="none" stroke-linejoin="round" stroke-linecap="round"/>
<path d="M877.5,54.8H903" stroke="#5ea2e4" stroke-width="2.75" stroke-linecap="round"/>
<path d="M944.5,54.8H969.5" stroke="#fd872e" stroke-width="2.75" stroke-linecap="round"/>
<path d="M1013.5,54.8H1038.5" stroke="#b5b5b5" stroke-width="2.75" stroke-linecap="round"/>
</svg>
<div class="t">Temperature <span class="sl0">min</span><span class="sl">/</span>max<span class="sl">/</span>felt</div>
<div class="lg" style="left:906px">min</div>
<div class="lg" style="left:973px">max</div>
<div class="lg" style="left:1041px">middle</div>
<div class="yl" style="top:608.7px">-5</div><div class="yl" style="top:532.5px">0</div><div class="yl" style="top:456.3px">5</div><div class="yl" style="top:380.2px">10</div><div class="yl" style="top:304.0px">15</div><div class="yl" style="top:227.8px">20</div><div class="yl" style="top:151.7px">25</div><div class="yl" style="top:75.5px">30</div>
<div class="xl" style="left:45.82px"><span>2021-10-01 02:00</span></div><div class="xl" style="left:67.08px"><span>2021-10-01 10:00</span></div><div class="xl" style="left:88.34px"><span>2021-10-01 18:00</span></div><div class="xl" style="left:109.60px"><span>2021-10-02 02:00</span></div><div class="xl" style="left:130.87px"><span>2021-10-02 10:00</span></div><div class="xl" style="left:152.13px"><span>2021-10-02 18:00</span></div><div class="xl" style="left:173.39px"><span>2021-10-03 02:00</span></div><div class="xl" style="left:194.65px"><span>2021-10-03 10:00</span></div><div class="xl" style="left:215.92px"><span>2021-10-03 18:00</span></div><div class="xl" style="left:237.18px"><span>2021-10-04 02:00</span></div><div class="xl" style="left:258.44px"><span>2021-10-04 10:00</span></div><div class="xl" style="left:279.70px"><span>2021-10-04 18:00</span></div><div class="xl" style="left:300.97px"><span>2021-10-05 02:00</span></div><div class="xl" style="left:322.23px"><span>2021-10-05 10:00</span></div><div class="xl" style="left:343.49px"><span>2021-10-05 18:00</span></div><div class="xl" style="left:364.75px"><span>2021-10-06 02:00</span></div><div class="xl" style="left:386.02px"><span>2021-10-06 10:00</span></div><div class="xl" style="left:407.28px"><span>2021-10-06 18:00</span></div><div class="xl" style="left:428.54px"><span>2021-10-07 02:00</span></div><div class="xl" style="left:449.80px"><span>2021-10-07 10:00</span></div><div class="xl" style="left:471.07px"><span>2021-10-07 18:00</span></div><div class="xl" style="left:492.33px"><span>2021-10-08 02:00</span></div><div class="xl" style="left:513.59px"><span>2021-10-08 10:00</span></div><div class="xl" style="left:534.85px"><span>2021-10-08 18:00</span></div><div class="xl" style="left:556.12px"><span>2021-10-09 02:00</span></div><div class="xl" style="left:577.38px"><span>2021-10-09 10:00</span></div><div class="xl" style="left:598.64px"><span>2021-10-09 18:00</span></div><div class="xl" style="left:619.91px"><span>2021-10-10 02:00</span></div><div class="xl" style="left:641.17px"><span>2021-10-10 10:00</span></div><div class="xl" style="left:662.43px"><span>2021-10-10 18:00</span></div><div class="xl" style="left:683.69px"><span>2021-10-11 02:00</span></div><div class="xl" style="left:704.96px"><span>2021-10-11 10:00</span></div><div class="xl" style="left:726.22px"><span>2021-10-11 18:00</span></div><div class="xl" style="left:747.48px"><span>2021-10-12 02:00</span></div><div class="xl" style="left:768.74px"><span>2021-10-12 10:00</span></div><div class="xl" style="left:790.01px"><span>2021-10-12 18:00</span></div><div class="xl" style="left:811.27px"><span>2021-10-13 02:00</span></div><div class="xl" style="left:832.53px"><span>2021-10-13 10:00</span></div><div class="xl" style="left:853.79px"><span>2021-10-13 18:00</span></div><div class="xl" style="left:875.06px"><span>2021-10-14 02:00</span></div><div class="xl" style="left:896.32px"><span>2021-10-14 10:00</span></div><div class="xl" style="left:917.58px"><span>2021-10-14 18:00</span></div><div class="xl" style="left:938.84px"><span>2021-10-15 02:00</span></div><div class="xl" style="left:960.11px"><span>2021-10-15 10:00</span></div><div class="xl" style="left:981.37px"><span>2021-10-15 18:00</span></div><div class="xl" style="left:1002.63px"><span>2021-10-16 02:00</span></div><div class="xl" style="left:1023.89px"><span>2021-10-16 10:00</span></div><div class="xl" style="left:1045.16px"><span>2021-10-16 18:00</span></div><div class="xl" style="left:1066.42px"><span>2021-10-17 02:00</span></div><div class="xl" style="left:1087.68px"><span>2021-10-17 10:00</span></div><div class="xl" style="left:1108.94px"><span>2021-10-17 18:00</span></div><div class="xl" style="left:1130.21px"><span>2021-10-18 02:00</span></div><div class="xl" style="left:1151.47px"><span>2021-10-18 10:00</span></div><div class="xl" style="left:1172.73px"><span>2021-10-18 18:00</span></div><div class="xl" style="left:1193.99px"><span>2021-10-19 02:00</span></div><div class="xl" style="left:1215.26px"><span>2021-10-19 10:00</span></div><div class="xl" style="left:1236.52px"><span>2021-10-19 18:00</span></div><div class="xl" style="left:1257.78px"><span>2021-10-20 02:00</span></div><div class="xl" style="left:1279.04px"><span>2021-10-20 10:00</span></div><div class="xl" style="left:1300.31px"><span>2021-10-20 18:00</span></div><div class="xl" style="left:1321.57px"><span>2021-10-21 02:00</span></div><div class="xl" style="left:1342.83px"><span>2021-10-21 10:00</span></div><div class="xl" style="left:1364.09px"><span>2021-10-21 18:00</span></div><div class="xl" style="left:1385.36px"><span>2021-10-22 02:00</span></div><div class="xl" style="left:1406.62px"><span>2021-10-22 10:00</span></div><div class="xl" style="left:1427.88px"><span>2021-10-22 18:00</span></div><div class="xl" style="left:1449.15px"><span>2021-10-23 02:00</span></div><div class="xl" style="left:1470.41px"><span>2021-10-23 10:00</span></div><div class="xl" style="left:1491.67px"><span>2021-10-23 18:00</span></div><div class="xl" style="left:1512.93px"><span>2021-10-24 02:00</span></div><div class="xl" style="left:1534.20px"><span>2021-10-24 10:00</span></div><div class="xl" style="left:1555.46px"><span>2021-10-24 18:00</span></div><div class="xl" style="left:1576.72px"><span>2021-10-25 02:00</span></div><div class="xl" style="left:1597.98px"><span>2021-10-25 10:00</span></div><div class="xl" style="left:1619.25px"><span>2021-10-25 18:00</span></div><div class="xl" style="left:1640.51px"><span>2021-10-26 02:00</span></div><div class="xl" style="left:1661.77px"><span>2021-10-26 10:00</span></div><div class="xl" style="left:1683.03px"><span>2021-10-26 18:00</span></div><div class="xl" style="left:1704.30px"><span>2021-10-27 02:00</span></div><div class="xl" style="left:1725.56px"><span>2021-10-27 10:00</span></div><div class="xl" style="left:1746.82px"><span>2021-10-27 18:00</span></div><div class="xl" style="left:1768.08px"><span>2021-10-28 02:00</span></div><div class="xl" style="left:1789.35px"><span>2021-10-28 10:00</span></div><div class="xl" style="left:1810.61px"><span>2021-10-28 18:00</span></div><div class="xl" style="left:1831.87px"><span>2021-10-29 02:00</span></div><div class="xl" style="left:1853.13px"><span>2021-10-29 10:00</span></div><div class="xl" style="left:1874.40px"><span>2021-10-29 18:00</span></div><div class="xl" style="left:1895.66px"><span>2021-10-30 02:00</span></div><div class="xl" style="left:1916.92px"><span>2021-10-30 10:00</span></div><div class="xl" style="left:1938.18px"><span>2021-10-30 18:00</span></div>
</body></html>
